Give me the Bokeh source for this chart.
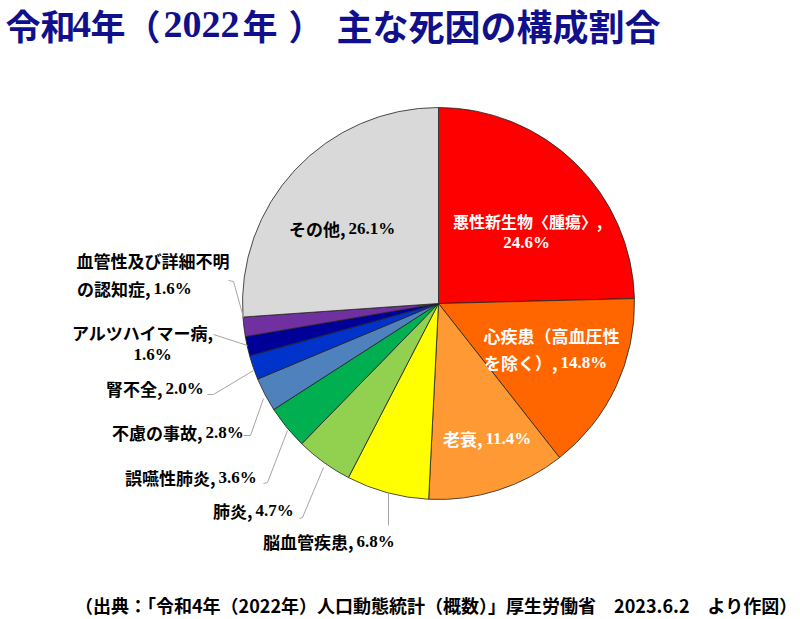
import math
from bokeh.plotting import figure
from bokeh.models import Range1d, ColumnDataSource
from bokeh.core.properties import value
from bokeh.embed import file_html
from bokeh.resources import INLINE

W, H = 800, 619

# ---- data ----
causes = ["悪性新生物〈腫瘍〉", "心疾患（高血圧性を除く）", "老衰", "脳血管疾患", "肺炎",
          "誤嚥性肺炎", "不慮の事故", "腎不全", "アルツハイマー病",
          "血管性及び詳細不明の認知症", "その他"]
shares = [24.6, 14.8, 11.4, 6.8, 4.7, 3.6, 2.8, 2.0, 1.6, 1.6, 26.1]
colors = ["#FF0000", "#FF6600", "#FF9933", "#FFFF00", "#92D050",
          "#00B050", "#4F81BD", "#0033CC", "#000099", "#7030A0", "#D9D9D9"]

title_parts = ["令和", "4", "年（", "2022", "年", "）", "主な死因の構成割合"]
source_text = "（出典：「令和4年（2022年）人口動態統計（概数）」厚生労働省　2023.6.2　より作図）"

def Y(py):
    return H - py

p = figure(width=W, height=H, output_backend="svg", toolbar_location=None,
           x_range=Range1d(0, W), y_range=Range1d(0, H),
           x_axis_location=None, y_axis_location=None, min_border=0)
p.grid.visible = False
p.outline_line_color = None
p.background_fill_color = "white"
p.border_fill_color = "white"

# ---- pie ----
cx, cy, r = 438, Y(303), 196
total = sum(shares)
starts, ends = [], []
cum = 0.0
for s in shares:
    starts.append(math.pi / 2 - cum / total * 2 * math.pi)
    cum += s
    ends.append(math.pi / 2 - cum / total * 2 * math.pi)
src = ColumnDataSource(dict(x=[cx] * len(shares), y=[cy] * len(shares),
                            start=starts, end=ends, color=colors))
p.wedge(x="x", y="y", radius=r, start_angle="start", end_angle="end",
        direction="clock", fill_color="color", line_color="#222222",
        line_width=0.8, source=src)

# ---- leader lines ----
leaders_x = [[228, 233, 243], [213, 247], [207, 213, 253], [243, 250, 263],
             [263, 267, 287], [299, 302, 323], [388, 388]]
leaders_y = [[280, 281, 317], [334, 345], [394, 394, 370], [435, 435, 398],
             [483, 482, 430], [518, 517, 467], [493, 525]]
p.multi_line(xs=leaders_x, ys=[[Y(v) for v in ys] for ys in leaders_y],
             line_color="#A6A6A6", line_width=1)

JP = value("Noto Sans CJK JP")
SERIF = value("Liberation Serif")

def txt(x, py, t, color="black", align="left", size="17px", font=JP):
    p.text(x=[x], y=[Y(py)], text=[t], text_font=font, text_font_style="bold",
           text_font_size=size, text_color=color, text_align=align,
           text_baseline="middle")

def pair(xs, py, jp, num, color="black"):
    txt(xs, py, jp, color, "right")
    txt(xs + 3, py, num, color, "left", font=SERIF)

pct = [f"{s:.1f}%" for s in shares]

# inside labels (white)
txt(527, 220, "悪性新生物〈腫瘍〉,", "white", "center", size="16px")
txt(526, 242, pct[0], "white", "center", font=SERIF)
txt(483, 335, "心疾患（高血圧性", "white", "left")
pair(557, 362, "を除く）,", pct[1], "white")
pair(482, 438, "老衰,", pct[2], "white")
pair(345, 228, "その他,", pct[10])

# outside labels
pair(353, 541, "脳血管疾患,", pct[3])
pair(252, 510, "肺炎,", pct[4])
pair(215, 477, "誤嚥性肺炎,", pct[5])
pair(202, 432, "不慮の事故,", pct[6])
pair(162, 388, "腎不全,", pct[7])
txt(213, 332, "アルツハイマー病,", align="right")
txt(152, 354, pct[8], align="center", font=SERIF)
txt(76, 260, "血管性及び詳細不明", align="left")
pair(150, 288, "の認知症,", pct[9])

# title
TC = "#10108C"
ty = 24
title_x = [5, 72, 90, 163, 242, 288, 336]
title_fonts = [JP, SERIF, JP, SERIF, JP, JP, JP]
title_sizes = ["35px", "37px", "35px", "38px", "35px", "35px", "36px"]
for t, x, f, s in zip(title_parts, title_x, title_fonts, title_sizes):
    p.text(x=[x], y=[Y(ty)], text=[t], text_font=f, text_font_style="bold",
           text_font_size=s, text_color=TC, text_align="left",
           text_baseline="middle")

# source
p.text(x=[797], y=[Y(604)], text=[source_text], text_font=JP, text_font_style="bold",
       text_font_size="18px", text_color="black", text_align="right",
       text_baseline="middle")

open("out.html", "w").write(file_html(p, INLINE))
